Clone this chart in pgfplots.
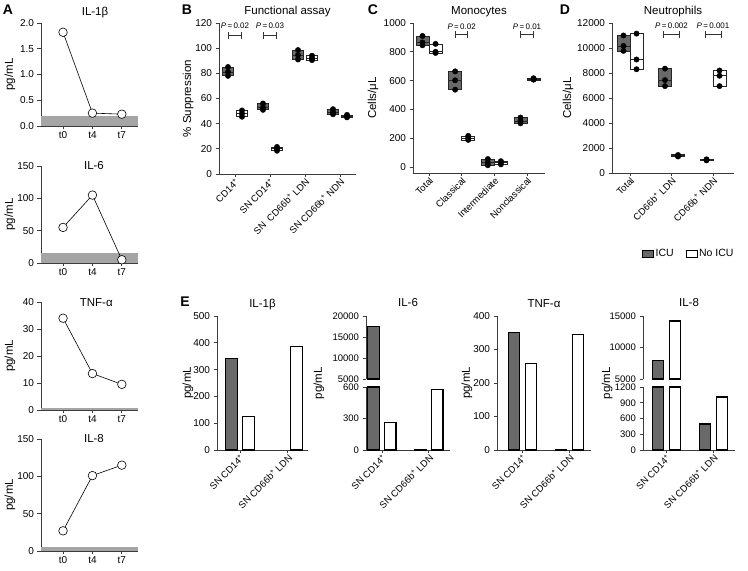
\documentclass[border=0pt]{standalone}
\usepackage{fontspec}
\setmainfont{Liberation Sans}
\usepackage{pgfplots}
\pgfplotsset{compat=1.18}
\definecolor{icu}{RGB}{105,105,105}
\definecolor{band}{RGB}{165,165,165}
\definecolor{axc}{RGB}{60,60,60}
\newcommand{\fs}[1]{\fontsize{#1}{#1}\selectfont}
% box/bar: #1 position, #2 low, #3 median, #4 high, #5 half width, #6 style
\newcommand{\bx}[6]{\pgfmathsetmacro\xa{#1-#5}\pgfmathsetmacro\xb{#1+#5}%
  \addplot[#6] coordinates {(\xa,#2) (\xa,#4) (\xb,#4) (\xb,#2)} --cycle;
  \addplot[#6, fill=none] coordinates {(\xa,#3) (\xb,#3)};}
\tikzset{icub/.style={fill=icu, draw=black!85, line width=0.7pt}, nob/.style={fill=white, draw=black!85, line width=0.7pt},
  icubar/.style={fill=icu, draw=black, line width=1.1pt}, nobar/.style={fill=white, draw=black, line width=1.1pt},
  pts/.style={only marks, mark=*, mark size=2.7pt, black}}
\newcommand{\pv}[4]{\draw[|-|, line width=0.8pt, black!80] (axis cs:#1-0.2,#3) -- (axis cs:#1+0.2,#3);
  \node[font=\fs{8}, inner sep=0pt] at (axis cs:#1,#4) {\textit{P}\,=\,#2};}
\pgfplotsset{
  every axis title shift=0pt,
  base/.style={scale only axis, anchor=south west, axis lines=left,
    axis line style={axc, line width=0.8pt, -},
    every tick/.style={axc, line width=0.8pt},
    tick align=outside, major tick length=3.5pt,
    tick label style={font=\fs{10}},
    /pgf/number format/assume math mode=true,
    /pgf/number format/1000 sep={},
    scaled ticks=false, clip=false,
    label style={font=\fs{11.5}},
    title style={font=\fs{11.5}, at={(0.5,1)}, anchor=base},
  },
  rot/.style={xticklabel style={rotate=45, anchor=east, font=\fs{9.5}, inner sep=1pt, yshift=-3.5pt, xshift=1pt}},
  panA/.style={base, width=97pt, xmin=-0.75, xmax=2.55, xtick={0,1,2}, xticklabels={t0,t4,t7},
    xticklabel style={anchor=north, font=\fs{10}, inner sep=2pt}, ylabel={pg/mL},
    ylabel style={at={(axis description cs:-0.32,0.5)}, anchor=center}},
  apl/.style={black, line width=0.6pt, mark=*, mark size=4.3pt, mark options={fill=white, draw=black, line width=0.6pt}},
  panE/.style={base, rot, xtick={0,1}, xticklabels={SN CD14\textsuperscript{+}, SN CD66b\textsuperscript{+} LDN}, ylabel={pg/mL}},
}
\begin{document}
\begin{tikzpicture}
\path[use as bounding box] (0,0) rectangle (748pt,571pt);
% panel letters
\node[font=\fs{14}\bfseries] at (8pt,561pt) {A};
\node[font=\fs{14}\bfseries] at (187pt,561pt) {B};
\node[font=\fs{14}\bfseries] at (373pt,561pt) {C};
\node[font=\fs{14}\bfseries] at (565pt,561pt) {D};
\node[font=\fs{14}\bfseries] at (185pt,269pt) {E};

% ---------- A ----------
\begin{axis}[panA, at={(41pt,445pt)}, height=103pt, ymin=0, ymax=2, ytick={0,0.5,1,1.5,2},
  yticklabel style={/pgf/number format/.cd, fixed, fixed zerofill, precision=1},
  title={IL-1β}, title style={at={(0.557,1)}, yshift=7pt}]
\addplot[fill=band, draw=none] coordinates {(-0.75,0.2) (2.55,0.2)} \closedcycle;
\addplot[apl] coordinates {(0,1.82) (1,0.25) (2,0.23)};
\end{axis}
\begin{axis}[panA, at={(41pt,308pt)}, height=97pt, ymin=0, ymax=150, ytick={0,50,100,150},
  title={IL-6}, title style={at={(0.546,1)}, yshift=-4pt}]
\addplot[fill=band, draw=none] coordinates {(-0.75,15) (2.55,15)} \closedcycle;
\addplot[apl] coordinates {(0,55) (1,105) (2,5)};
\end{axis}
\begin{axis}[panA, at={(41pt,161pt)}, height=108pt, ymin=0, ymax=40, ytick={0,10,20,30,40},
  title={TNF-α}, title style={at={(0.57,1)}, yshift=-4pt}]
\addplot[fill=band, draw=none] coordinates {(-0.75,0.8) (2.55,0.8)} \closedcycle;
\addplot[apl] coordinates {(0,34) (1,13.5) (2,9.5)};
\end{axis}
\begin{axis}[panA, at={(41pt,20pt)}, height=112pt, ymin=0, ymax=150, ytick={0,50,100,150},
  title={IL-8}, title style={at={(0.546,1)}, yshift=-4pt}]
\addplot[fill=band, draw=none] coordinates {(-0.75,6) (2.55,6)} \closedcycle;
\addplot[apl] coordinates {(0,27) (1,101) (2,115)};
\end{axis}

% ---------- B ----------
\begin{axis}[base, rot, at={(219pt,397pt)}, width=137pt, height=151pt, xmin=-0.457, xmax=3.457,
  ymin=0, ymax=120, ytick={0,20,...,120}, xtick={0,1,2,3},
  xticklabels={CD14\textsuperscript{+}, SN CD14\textsuperscript{+}, SN\ \ CD66b\textsuperscript{+} LDN, SN CD66b\textsuperscript{+} NDN},
  ylabel={\% Suppression}, ylabel style={at={(axis description cs:-0.226,0.5)}, anchor=center},
  title={Functional assay}, title style={yshift=8pt}]
\bx{-0.2}{78}{81}{85}{0.157}{icub}
\addplot[pts] coordinates {(-0.2,78) (-0.2,81) (-0.2,85)};
\bx{0.2}{45.5}{48}{50.5}{0.157}{nob}
\addplot[pts] coordinates {(0.2,45.5) (0.2,48) (0.2,50.5)};
\bx{0.8}{51}{53}{56}{0.157}{icub}
\addplot[pts] coordinates {(0.8,51) (0.8,53) (0.8,56)};
\bx{1.2}{18.5}{20}{21.5}{0.157}{nob}
\addplot[pts] coordinates {(1.2,18.5) (1.2,20) (1.2,21.5)};
\bx{1.8}{91}{94.5}{98.5}{0.157}{icub}
\addplot[pts] coordinates {(1.8,91) (1.8,94.5) (1.8,98.5)};
\bx{2.2}{90.5}{92}{94}{0.157}{nob}
\addplot[pts] coordinates {(2.2,90.5) (2.2,92) (2.2,94)};
\bx{2.8}{47.5}{49}{51.5}{0.157}{icub}
\addplot[pts] coordinates {(2.8,47.5) (2.8,49) (2.8,51.5)};
\bx{3.2}{45}{46}{47}{0.157}{nob}
\addplot[pts] coordinates {(3.2,45) (3.2,46) (3.2,47)};
\pv{0}{0.02}{110}{118}
\pv{1}{0.03}{110}{118}
\end{axis}

% ---------- C ----------
\begin{axis}[base, rot, at={(413pt,398pt)}, width=132pt, height=150pt, xmin=-0.49, xmax=3.55,
  ymin=-42, ymax=1000, ytick={0,200,...,1000}, xtick={0,1,2,3},
  xticklabels={Total, Classical, Intermediate, Nonclassical},
  ylabel={Cells/μL}, ylabel style={at={(axis description cs:-0.303,0.5)}, anchor=center},
  title={Monocytes}, title style={yshift=8pt}]
\bx{-0.2}{845}{865}{910}{0.2}{icub}
\addplot[pts] coordinates {(-0.2,845) (-0.2,865) (-0.2,910)};
\bx{0.2}{792}{800}{855}{0.2}{nob}
\addplot[pts] coordinates {(0.2,792) (0.2,800) (0.2,855)};
\bx{0.8}{537}{602}{664}{0.2}{icub}
\addplot[pts] coordinates {(0.8,537) (0.8,602) (0.8,664)};
\bx{1.2}{188}{201}{216}{0.2}{nob}
\addplot[pts] coordinates {(1.2,188) (1.2,201) (1.2,216)};
\bx{1.8}{12}{30}{55}{0.2}{icub}
\addplot[pts] coordinates {(1.8,12) (1.8,30) (1.8,55)};
\bx{2.2}{18}{30}{40}{0.2}{nob}
\addplot[pts] coordinates {(2.2,18) (2.2,30) (2.2,40)};
\bx{2.8}{303}{320}{343}{0.2}{icub}
\addplot[pts] coordinates {(2.8,303) (2.8,320) (2.8,343)};
\bx{3.2}{604}{611}{618}{0.2}{nob}
\addplot[pts] coordinates {(3.2,606) (3.2,611) (3.2,616)};
\pv{1}{0.02}{919}{975}
\pv{3}{0.01}{919}{975}
\end{axis}

% ---------- D ----------
\begin{axis}[base, rot, at={(612pt,398pt)}, width=122pt, height=150pt, xmin=-0.434, xmax=2.506,
  ymin=0, ymax=12000, ytick={0,2000,...,12000}, xtick={0,1,2},
  xticklabels={Total, CD66b\textsuperscript{+} LDN, CD66b\textsuperscript{+} NDN},
  ylabel={Cells/μL}, ylabel style={at={(axis description cs:-0.36,0.5)}, anchor=center},
  title={Neutrophils}, title style={yshift=8pt},
  legend style={at={(0.63,-0.54)}, anchor=center, draw=none, fill=none, legend columns=2, font=\fs{10.5},
    /tikz/every even column/.append style={column sep=10pt}}]
\addlegendimage{legend image code/.code={\draw[fill=icu, draw=black] (0pt,-3pt) rectangle (11pt,3.5pt);}}
\addlegendentry{ICU}
\addlegendimage{legend image code/.code={\draw[fill=white, draw=black] (0pt,-3pt) rectangle (11pt,3.5pt);}}
\addlegendentry{No ICU}
\bx{-0.157}{9770}{10170}{11000}{0.157}{icub, forget plot}
\addplot[pts, forget plot] coordinates {(-0.157,9770) (-0.157,10170) (-0.157,11000)};
\bx{0.157}{8300}{9080}{11150}{0.157}{nob, forget plot}
\addplot[pts, forget plot] coordinates {(0.157,8300) (0.157,9080) (0.157,11150)};
\bx{0.843}{6950}{7430}{8350}{0.157}{icub, forget plot}
\addplot[pts, forget plot] coordinates {(0.843,6950) (0.843,7430) (0.843,8350)};
\bx{1.157}{1300}{1380}{1460}{0.157}{nob, forget plot}
\addplot[pts, forget plot] coordinates {(1.157,1320) (1.157,1380) (1.157,1440)};
\bx{1.843}{1000}{1050}{1100}{0.157}{icub, forget plot}
\addplot[pts, forget plot] coordinates {(1.843,1010) (1.843,1050) (1.843,1090)};
\bx{2.157}{6950}{7780}{8230}{0.157}{nob, forget plot}
\addplot[pts, forget plot] coordinates {(2.157,6950) (2.157,7780) (2.157,8200)};
\pv{1}{0.002}{11070}{11750}
\pv{2}{0.001}{11070}{11750}
\end{axis}

% ---------- E ----------
\begin{axis}[panE, at={(217pt,121pt)}, width=91pt, height=134pt, xmin=-0.48, xmax=1.42,
  ymin=0, ymax=500, ytick={0,100,...,500},
  ylabel style={at={(axis description cs:-0.32,0.5)}, anchor=center},
  title={IL-1β}, title style={yshift=9pt}]
\bx{-0.18}{0}{343}{343}{0.12}{icubar}
\bx{0.18}{0}{124}{124}{0.12}{nobar}
\bx{1.18}{0}{385}{385}{0.12}{nobar}
\end{axis}
% IL-6 broken
\begin{axis}[base, at={(366pt,192pt)}, width=84pt, height=63pt, xmin=-0.34, xmax=1.45,
  ymin=5000, ymax=20000, ytick={5000,10000,15000,20000}, axis x line=none, xtick=\empty,
  yticklabel style={font=\fs{9.5}},
  title={IL-6}, title style={yshift=9pt}]
\bx{-0.18}{5000}{17500}{17500}{0.12}{icubar}
\end{axis}
\begin{axis}[panE, at={(366pt,121pt)}, width=84pt, height=63pt, xmin=-0.34, xmax=1.45,
  ymin=0, ymax=600, ytick={0,300,600},
  yticklabel style={font=\fs{9.5}},
  ylabel style={at={(axis description cs:-0.56,1.06)}, anchor=center}]
\bx{-0.18}{0}{600}{600}{0.12}{icubar}
\bx{0.18}{0}{265}{265}{0.12}{nobar}
\bx{0.82}{0}{5}{5}{0.12}{icubar}
\bx{1.18}{0}{580}{580}{0.12}{nobar}
\end{axis}
% TNF
\begin{axis}[panE, at={(497pt,121pt)}, width=94pt, height=134pt, xmin=-0.54, xmax=1.46,
  ymin=0, ymax=400, ytick={0,100,...,400},
  ylabel style={at={(axis description cs:-0.32,0.5)}, anchor=center},
  title={TNF-α}, title style={yshift=9pt}]
\bx{-0.18}{0}{352}{352}{0.12}{icubar}
\bx{0.18}{0}{257}{257}{0.12}{nobar}
\bx{0.82}{0}{2}{2}{0.12}{icubar}
\bx{1.18}{0}{344}{344}{0.12}{nobar}
\end{axis}
% IL-8 broken
\begin{axis}[base, at={(643pt,192pt)}, width=92pt, height=63pt, xmin=-0.5, xmax=1.46,
  ymin=5000, ymax=15000, ytick={5000,10000,15000}, axis x line=none, xtick=\empty,
  yticklabel style={font=\fs{9.5}},
  title={IL-8}, title style={yshift=9pt}]
\bx{-0.18}{5000}{8000}{8000}{0.12}{icubar}
\bx{0.18}{5000}{14200}{14200}{0.12}{nobar}
\end{axis}
\begin{axis}[panE, at={(643pt,121pt)}, width=92pt, height=63pt, xmin=-0.5, xmax=1.46,
  ymin=0, ymax=1200, ytick={0,300,...,1200},
  yticklabel style={font=\fs{9.5}},
  ylabel style={at={(axis description cs:-0.39,1.06)}, anchor=center}]
\bx{-0.18}{0}{1200}{1200}{0.12}{icubar}
\bx{0.18}{0}{1200}{1200}{0.12}{nobar}
\bx{0.82}{0}{495}{495}{0.12}{icubar}
\bx{1.18}{0}{1010}{1010}{0.12}{nobar}
\end{axis}
\end{tikzpicture}
\end{document}
